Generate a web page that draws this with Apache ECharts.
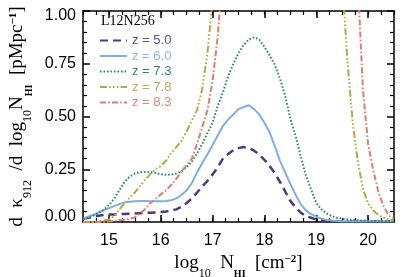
<!DOCTYPE html>
<html><head><meta charset="utf-8">
<script src="https://cdn.jsdelivr.net/npm/echarts@6/dist/echarts.min.js"></script>
<style>html,body{margin:0;padding:0;background:#fff}#c{width:415px;height:277px}</style>
</head><body><div id="c"></div>
<script>
const nHI = [14.5,14.6,14.7,14.8,14.9,
  15.0,15.1,15.2,15.3,15.4,15.5,15.6,15.7,15.8,15.9,
  16.0,16.1,16.2,16.3,16.4,16.5,16.6,16.7,16.8,16.9,
  17.0,17.1,17.2,17.3,17.4,17.5,17.6,17.7,17.8,17.9,
  18.0,18.1,18.2,18.3,18.4,18.5,18.6,18.7,18.8,18.9,
  19.0,19.1,19.2,19.3,19.4,19.5,19.6,19.7,19.8,19.9,
  20.0,20.1,20.2,20.3,20.4,20.5];
const z50 = [0.015,0.02,0.025,0.03,0.033,
  0.035,0.036,0.037,0.038,0.039,0.04,0.042,0.043,0.044,0.045,
  0.047,0.05,0.054,0.06,0.072,0.09,0.112,0.14,0.168,0.195,
  0.225,0.26,0.3,0.322,0.34,0.35,0.355,0.35,0.338,0.32,
  0.295,0.265,0.232,0.19,0.145,0.1,0.07,0.045,0.028,0.02,
  0.012,0.008,0.005,0.004,0.003,0.002,0.002,0.002,0.002,0.002,
  0.002,0.002,0.002,0.002,0.002,0.002];
const z60 = [0.015,0.025,0.035,0.045,0.055,
  0.065,0.075,0.085,0.092,0.096,0.098,0.099,0.099,0.098,0.098,
  0.098,0.099,0.103,0.112,0.128,0.15,0.185,0.235,0.28,0.32,
  0.365,0.41,0.455,0.485,0.51,0.535,0.545,0.553,0.535,0.51,
  0.47,0.425,0.36,0.29,0.235,0.18,0.13,0.085,0.055,0.037,
  0.025,0.016,0.01,0.007,0.005,0.004,0.003,0.003,0.003,0.003,
  0.003,0.003,0.003,0.003,0.003,0.003];
const z73 = [0.015,0.02,0.03,0.042,0.058,
  0.08,0.11,0.15,0.19,0.215,0.23,0.236,0.237,0.236,0.232,
  0.226,0.224,0.225,0.23,0.24,0.26,0.285,0.325,0.37,0.42,
  0.47,0.55,0.615,0.69,0.75,0.8,0.84,0.865,0.875,0.865,
  0.83,0.79,0.745,0.68,0.6,0.49,0.41,0.31,0.22,0.155,
  0.09,0.06,0.04,0.028,0.02,0.015,0.012,0.01,0.008,0.007,
  0.006,0.005,0.005,0.005,0.005,0.005];
const z78 = [0,0,0,0.003,0.007,
  0.012,0.028,0.058,0.088,0.115,0.14,0.17,0.2,0.228,0.25,
  0.265,0.29,0.325,0.355,0.385,0.43,0.48,0.53,0.63,0.8,
  1.05,1.4,1.8,2.2,2.6,3.0,3.3,3.6,3.8,3.9,
  3.9,3.8,3.6,3.4,3.1,2.8,2.5,2.2,1.9,1.7,
  1.55,1.45,1.35,1.3,1.25,1.15,0.77,0.48,0.29,0.16,
  0.087,0.055,0.033,0.02,0.012,0.007];
const z83 = [0,0,0,0,0,
  0.002,0.005,0.008,0.011,0.015,0.022,0.04,0.062,0.09,0.11,
  0.13,0.15,0.175,0.205,0.24,0.27,0.3,0.37,0.45,0.53,
  0.67,0.88,1.2,1.6,2.0,2.4,2.8,3.1,3.4,3.6,
  3.7,3.7,3.6,3.5,3.3,3.1,2.8,2.5,2.2,1.9,
  1.7,1.55,1.45,1.4,1.35,1.3,1.25,1.2,1.15,0.63,
  0.37,0.245,0.14,0.075,0.03,0.015];
const seriesNames = ['z = 5.0','z = 6.0','z = 7.3','z = 7.8','z = 8.3'];
const xMajor = [15,16,17,18,19,20];

const colors = ['#4b3a7e','#80afdf','#2b8a6e','#b5a848','#de7d70'];
const textColors = ['#5c4c92','#8cb8e6','#2b8a6e','#b8ac55','#e08679'];
const dashes = [[8,5],'solid',[1.6,1.9],[7,2.2,1.6,2.2,1.6,2.2,1.6,2.2],[6,2.2,1.6,2.2]];
const widths = [2.5,2,2,2,2];
const vals = [z50,z60,z73,z78,z83];

function mkRich(fs){
  return {
    m:{fontFamily:'Liberation Serif',fontSize:fs,lineHeight:fs+3,verticalAlign:'top',color:'#000'},
    sub:{fontFamily:'Liberation Serif',fontSize:Math.round(fs*0.62),lineHeight:Math.round(fs*0.62),padding:[Math.round(fs*0.72),0,0,0],verticalAlign:'top',color:'#000'},
    hi:{fontFamily:'Liberation Serif',fontSize:Math.round(fs*0.5),fontWeight:'bold',lineHeight:Math.round(fs*0.5),padding:[Math.round(fs*0.85),0,0,0],verticalAlign:'top',color:'#000'},
    sup:{fontFamily:'Liberation Serif',fontSize:Math.round(fs*0.6),fontWeight:'bold',lineHeight:Math.round(fs*0.6),padding:[0,0,0,0],verticalAlign:'top',color:'#000'}
  };
}
const axLine = {show:true,lineStyle:{color:'#000',width:1.5}};
const base = {type:'value',min:14.5,max:20.5,splitLine:{show:false}};
const chart = echarts.init(document.getElementById('c'));
chart.setOption({
  animation:false,
  backgroundColor:'#fff',
  grid:{left:83,right:21,top:11,bottom:55,containLabel:false,outerBoundsMode:'none'},
  legend:{orient:'vertical',left:94,top:29,itemWidth:27,itemHeight:13,itemGap:2.5,
    itemStyle:{opacity:0},
    data:seriesNames.map((n,i)=>({name:n,textStyle:{color:textColors[i]}})),
    textStyle:{fontFamily:'Liberation Sans',fontSize:13,lineHeight:13}},
  graphic:[{type:'text',left:101,top:14,style:{text:'L12N256',fontFamily:'Liberation Serif',fontSize:14,fill:'#000'}}],
  xAxis:[
    Object.assign({},base,{position:'bottom',axisLine:axLine,
      axisTick:{inside:true,length:7,customValues:xMajor,lineStyle:{color:'#000',width:1.5}},
      axisLabel:{customValues:xMajor,margin:11,fontFamily:'Liberation Sans',fontSize:16,color:'#000'},
      name:'{m|log}{sub|10}{m|  N}{hi|HI}{m|  [cm}{sup|−2}{m|]}',nameLocation:'middle',nameGap:30,
      nameTextStyle:{rich:mkRich(19)}}),
    Object.assign({},base,{position:'bottom',interval:0.25,axisLine:{show:false},
      axisTick:{inside:true,length:4,lineStyle:{color:'#000',width:1.2}},axisLabel:{show:false}}),
    Object.assign({},base,{position:'top',axisLine:axLine,
      axisTick:{inside:true,length:7,customValues:xMajor,lineStyle:{color:'#000',width:1.5}},
      axisLabel:{show:false}}),
    Object.assign({},base,{position:'top',interval:0.25,axisLine:{show:false},
      axisTick:{inside:true,length:4,lineStyle:{color:'#000',width:1.2}},axisLabel:{show:false}})
  ],
  yAxis:[
    {type:'value',min:0,max:1,interval:0.25,position:'left',splitLine:{show:false},axisLine:axLine,
     axisTick:{inside:true,length:7,lineStyle:{color:'#000',width:1.5}},
     minorTick:{show:true,splitNumber:5,length:4,lineStyle:{color:'#000',width:1.2}},
     axisLabel:{margin:7,fontFamily:'Liberation Sans',fontSize:16,color:'#000',
       formatter:v=> v===0?'{lo|0.00}':(v===1?'{hi|1.00}':v.toFixed(2)),
       rich:{lo:{fontFamily:'Liberation Sans',fontSize:16,padding:[0,0,10,0]},hi:{fontFamily:'Liberation Sans',fontSize:16,padding:[10,0,0,0]}}},
     name:'{m|d  κ}{sub|912}{m|  /d  log}{sub|10}{m|N}{hi|HI}{m|  [pMpc}{sup|−1}{m|]}',nameLocation:'middle',nameGap:46,
     nameTextStyle:{rich:mkRich(19)}},
    {type:'value',min:0,max:1,interval:0.25,position:'right',splitLine:{show:false},axisLine:axLine,
     axisTick:{inside:true,length:7,lineStyle:{color:'#000',width:1.5}},
     minorTick:{show:true,splitNumber:5,length:4,lineStyle:{color:'#000',width:1.2}},
     axisLabel:{show:false}}
  ],
  series: seriesNames.map((n,i)=>({
    name:n,type:'line',symbol:'none',clip:true,
    data:nHI.map((x,j)=>[x,vals[i][j]]),
    lineStyle:{color:colors[i],width:widths[i],type:dashes[i]},
    itemStyle:{color:colors[i]}
  }))
});
</script></body></html>
